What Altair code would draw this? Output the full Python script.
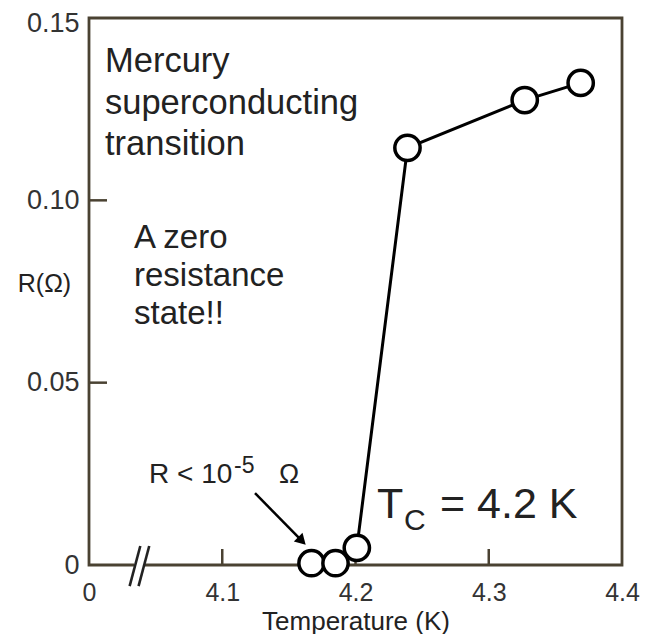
import altair as alt
import pandas as pd

# --- data ---
temps = [4.167, 4.185, 4.201, 4.239, 4.327, 4.369]
resist = [0.0005, 0.0005, 0.0047, 0.1144, 0.1275, 0.1322]

x_tick_values = [4.0, 4.1, 4.2, 4.3, 4.4]
x_inner_ticks = [4.1, 4.2, 4.3]
y_tick_values = [0.0, 0.05, 0.10, 0.15]
y_inner_ticks = [0.05, 0.10]

# axis-break marks (data units)
break_x = [4.0305, 4.0372]
break_x2 = [4.0385, 4.0452]
break_y = [-0.0058, -0.0058]
break_y2 = [0.0052, 0.0052]
gap_x, gap_x2 = 4.0338, 4.0414

# arrow (data units)
arrow_x, arrow_y = 4.1246, 0.0197
arrow_x2, arrow_y2 = 4.1598, 0.0066

FONT = "Liberation Sans"
AXIS_COLOR = "#4a4232"
TEXT_COLOR = "#222222"

W, H = 533, 547

pts = pd.DataFrame({"T": temps, "R": resist})

xscale = alt.Scale(domain=[4.0, 4.4], nice=False, zero=False)
yscale = alt.Scale(domain=[0, 0.15], nice=False, zero=True)

xaxis = alt.Axis(
    values=x_tick_values,
    labelExpr="datum.value < 4.05 ? '0' : format(datum.value, '.1f')",
    labelFont=FONT, labelFontSize=25, labelColor="#333333",
    labelBaseline="alphabetic", labelPadding=35,
    labelFlush=False, labelOverlap=False,
    ticks=False, tickSize=0, domain=False, grid=False,
    title="Temperature (K)", titleFont=FONT, titleFontSize=26,
    titleFontWeight="normal", titleColor=TEXT_COLOR,
    titleBaseline="alphabetic", titleY=64,
)
yaxis = alt.Axis(
    values=y_tick_values,
    labelExpr="datum.value == 0 ? '0' : format(datum.value, '.2f')",
    labelFont=FONT, labelFontSize=27, labelColor="#333333",
    labelPadding=10, labelFlush=False, labelOverlap=False,
    labelOffset={"condition": {"test": "datum.value > 0.14", "value": 5}, "value": 0},
    ticks=False, tickSize=0, domain=False, grid=False,
    title="R(Ω)", titleFont=FONT, titleFontSize=25,
    titleFontWeight="normal", titleColor=TEXT_COLOR,
    titleAngle=0, titleAlign="center", titleBaseline="middle",
    titleX=-45, titleY=265,
)


def X(field):
    return alt.X(field, type="quantitative", scale=xscale, axis=xaxis)


def Y(field):
    return alt.Y(field, type="quantitative", scale=yscale, axis=yaxis)


line = alt.Chart(pts).mark_line(color="black", strokeWidth=3).encode(
    x=X("T"), y=Y("R")
)
circles = alt.Chart(pts).mark_point(
    shape="circle", filled=True, fill="white", stroke="black",
    strokeWidth=3.5, size=640, opacity=1
).encode(x=X("T"), y=Y("R"))

ytick_df = pd.DataFrame({"v": y_inner_ticks})
yticks = alt.Chart(ytick_df).mark_rule(color=AXIS_COLOR, strokeWidth=2.5).encode(
    y=Y("v"), x=alt.value(0), x2=alt.value(18)
)
xtick_df = pd.DataFrame({"v": x_inner_ticks})
xticks = alt.Chart(xtick_df).mark_rule(color=AXIS_COLOR, strokeWidth=2.5).encode(
    x=X("v"), y=alt.value(H), y2=alt.value(H - 16)
)

gap_df = pd.DataFrame({"x": [gap_x], "x2": [gap_x2], "y": [0.0]})
gap = alt.Chart(gap_df).mark_rule(color="white", strokeWidth=7).encode(
    x=X("x"), x2="x2", y=Y("y")
)
brk_df = pd.DataFrame({"x": break_x, "x2": break_x2, "y": break_y, "y2": break_y2})
brk = alt.Chart(brk_df).mark_rule(color="#222222", strokeWidth=2.6).encode(
    x=X("x"), x2="x2", y=Y("y"), y2="y2"
)

arrow_df = pd.DataFrame({"x": [arrow_x], "x2": [arrow_x2], "y": [arrow_y], "y2": [arrow_y2]})
arrow_line = alt.Chart(arrow_df).mark_rule(color="black", strokeWidth=2.5).encode(
    x=X("x"), x2="x2", y=Y("y"), y2="y2"
)
head_df = pd.DataFrame({"x": [arrow_x2], "y": [arrow_y2]})
arrow_head = alt.Chart(head_df).mark_point(
    shape="triangle-up", filled=True, color="black", size=150, angle=135, opacity=1
).encode(x=X("x"), y=Y("y"))


def label(text, x, y, size, **kw):
    return alt.Chart(pd.DataFrame({"a": [0]})).mark_text(
        text=text, font=FONT, fontSize=size, color=TEXT_COLOR,
        align="left", baseline="alphabetic", **kw
    ).encode(x=alt.value(x), y=alt.value(y))


t1 = label(["Mercury", "superconducting", "transition"], 16, 54, 34.5, lineHeight=41.5)
t2 = label(["A zero", "resistance", "state!!"], 45, 230, 33, lineHeight=38)
t3 = label("R < 10", 60, 465, 28)
t4 = label("-5", 145, 455, 23)
t5 = label("Ω", 190, 465, 27)
t6 = label("T", 288, 500, 43)
t7 = label("C", 315, 512, 30)
t8 = label("= 4.2 K", 351, 500, 43)

chart = alt.layer(
    xticks, yticks, gap, brk, arrow_line, arrow_head, line, circles,
    t1, t2, t3, t4, t5, t6, t7, t8,
).properties(
    width=W, height=H,
    autosize=alt.AutoSizeParams(type="none"),
    padding={"left": 81, "top": 10, "right": 18, "bottom": 69},
    background="white",
).configure_view(
    stroke=AXIS_COLOR, strokeWidth=2.8
)

chart.save("out.html", embed_options={"renderer": "svg", "actions": False})
